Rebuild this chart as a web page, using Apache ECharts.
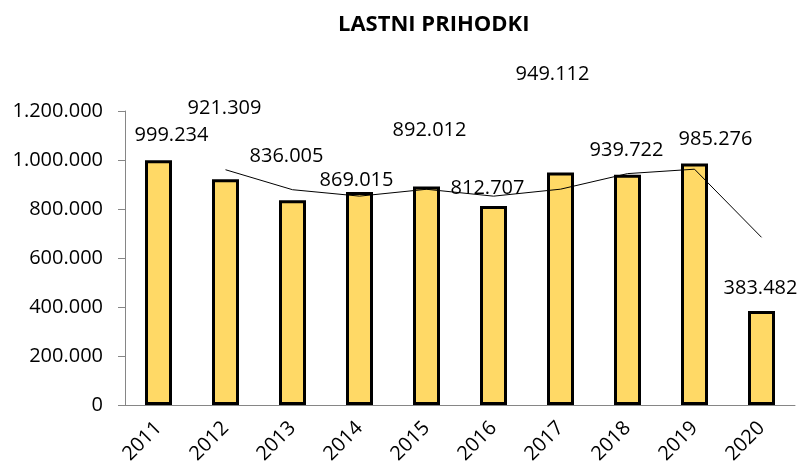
<!DOCTYPE html>
<html>
<head>
<meta charset="utf-8">
<script src="https://cdn.jsdelivr.net/npm/echarts@6/dist/echarts.min.js"></script>
<style>
  html, body { margin: 0; padding: 0; background: #fff; }
  #chart { width: 799px; height: 467px; }
</style>
</head>
<body>
<div id="chart"></div>
<script>
// data
var years = ['2011', '2012', '2013', '2014', '2015', '2016', '2017', '2018', '2019', '2020'];
var revenue = [999234, 921309, 836005, 869015, 892012, 812707, 949112, 939722, 985276, 383482];
// 2-period moving average trend line (as drawn)
var trend = [null, 960300, 878700, 852500, 880500, 852400, 880900, 944400, 962500, 684400];
var yTicks = [0, 200000, 400000, 600000, 800000, 1000000, 1200000];

// where each value label sits relative to its bar top (dx, dy)
var labelShift = [[13, -15], [-1, -61], [-6, -34], [-3, -2], [3, -46], [-6, -8], [-8, -88], [-1, -14], [21, -14], [-1, -13]];

var font = 'Open Sans';

function fmt(v) {
  return String(v).replace(/\B(?=(\d{3})+(?!\d))/g, '.');
}

var chart = echarts.init(document.getElementById('chart'));

var barData = revenue.map(function (v, i) {
  return {
    value: v,
    label: { offset: labelShift[i] }
  };
});

chart.setOption({
  animation: false,
  title: {
    text: 'LASTNI PRIHODKI',
    left: 333,
    top: 9,
    textStyle: { fontFamily: font, fontSize: 22, fontWeight: 'bold', color: '#000' }
  },
  grid: { left: 125, right: 4, top: 111, bottom: 62 },
  xAxis: {
    type: 'category',
    data: years,
    axisLine: { lineStyle: { color: '#868686', width: 1 } },
    axisTick: { length: 6, lineStyle: { color: '#868686' } },
    axisLabel: { rotate: 45, margin: 20, fontFamily: font, fontSize: 20, color: '#000' }
  },
  yAxis: {
    type: 'value',
    min: yTicks[0],
    max: yTicks[yTicks.length - 1],
    interval: yTicks[1] - yTicks[0],
    splitLine: { show: false },
    axisLine: { show: true, lineStyle: { color: '#868686', width: 1 } },
    axisTick: { show: true, length: 7, lineStyle: { color: '#868686' } },
    axisLabel: {
      margin: 22,
      fontFamily: font,
      fontSize: 20,
      color: '#000',
      formatter: function (v) { return fmt(v); }
    }
  },
  series: [
    {
      type: 'bar',
      data: barData,
      barWidth: 27,
      itemStyle: { color: '#FFD966', borderColor: '#000', borderWidth: 3 },
      label: {
        show: true,
        position: 'top',
        distance: 0,
        lineHeight: 20,
        fontFamily: font,
        fontSize: 20,
        color: '#000',
        formatter: function (p) { return fmt(p.value); }
      },
      z: 2
    },
    {
      type: 'line',
      data: trend,
      showSymbol: false,
      symbol: 'none',
      lineStyle: { color: '#000', width: 1 },
      z: 3
    }
  ]
});
</script>
</body>
</html>
